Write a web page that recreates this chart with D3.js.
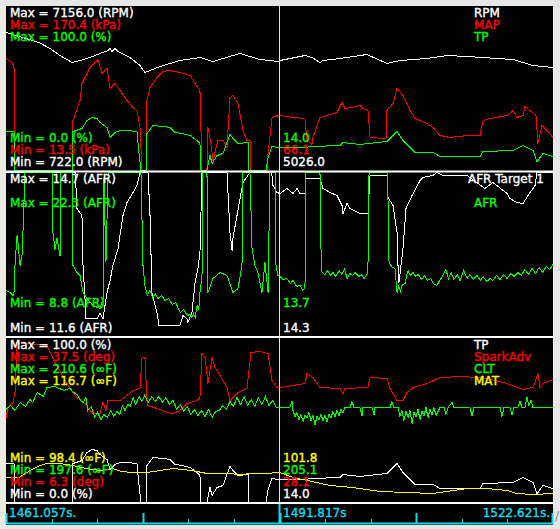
<!DOCTYPE html>
<html><head><meta charset="utf-8">
<script src="https://cdn.jsdelivr.net/npm/d3@7"></script>
<style>
html,body{margin:0;padding:0;background:#e6e6e6;}
svg{display:block;}
text{font-family:"DejaVu Sans",sans-serif;font-size:12px;stroke-width:0.35px;}
</style></head><body>
<svg id="c" width="560" height="529"></svg>
<script>
// ---- time (seconds) ----
const T0 = 1461.057, T1 = 1522.621, tCursor = 1491.817;
const timeLabels = ["1461.057s.", "1491.817s", "1522.621s."];

// ---- series: [elapsed seconds, value] ----
const rpm = [[0,6136],[3.71,5744],[4.95,5508],[6.08,5233],[7.43,4959],[8.33,5037],[9.45,5155],[10.58,5312],[11.48,5430],[11.71,5508],[11.93,5390],[12.27,5508],[12.61,5390],[13.96,5155],[15.08,4841],[15.64,4567],[17.33,4802],[19.58,5037],[21.83,5155],[23.30,4998],[25.55,5233],[26.34,5312],[28.59,5077],[30.61,4998],[30.84,5026],[33.09,5194],[33.65,5233],[34.44,5155],[35.34,4959],[35.68,5037],[37.59,5116],[40.63,5273],[42.88,4920],[44.34,5037],[47.38,5116],[49.63,5233],[51.88,5194],[57.06,5077],[59.31,4841],[61.56,4763]];
const map = [[0,120.7],[0.68,116.8],[0.90,113],[1.01,13.5],[7.43,13.5],[7.54,61.3],[8.33,80.5],[8.55,96.7],[9.45,112.0],[10.35,119.7],[10.80,106.3],[11.37,111.1],[11.71,91.9],[12.27,96.7],[12.83,90.0],[13.62,80.5],[14.29,73.8],[14.74,70.9],[15.08,54.6],[15.31,13.5],[15.76,13.5],[15.87,80.5],[16.21,92.9],[16.99,102.5],[17.67,108.2],[18.46,109.2],[19.58,107.3],[20.71,104.4],[21.27,96.7],[21.83,90.0],[22.06,13.5],[22.62,13.5],[22.73,54.6],[22.96,45],[23.30,23.1],[23.86,42.2],[24.42,42.2],[24.87,35.5],[25.21,83.3],[25.55,85.3],[26.11,77.6],[26.67,51.8],[27.12,42.2],[27.46,42.2],[27.57,13.5],[29.38,13.5],[29.49,30],[29.94,64.2],[30.61,66.1],[30.84,66.1],[32.30,64.2],[33.65,63.2],[33.88,42.2],[34.44,38],[34.55,45],[35.34,64.2],[37.25,69.0],[37.82,78.6],[38.15,72.8],[38.94,73.8],[39.84,75.7],[40.18,72.8],[40.74,70.9],[40.97,45.1],[42.77,44.1],[42.88,70.9],[43.56,77.6],[44.01,91.9],[44.68,85.3],[45.47,70.9],[46.03,63.2],[47.38,58.5],[48.06,54.6],[48.85,47.0],[49.97,45.1],[51.88,47.0],[53.35,47.0],[53.69,61.3],[54.47,63.2],[56.39,66.1],[57.06,70.9],[57.51,64.2],[58.19,66.1],[58.41,74.7],[58.97,70.9],[59.65,66.1],[59.87,39.3],[60.32,56.5],[60.89,51.8],[61.56,45.1]];
const tp = [[0,23.5],[0.90,23.5],[1.01,0],[7.43,0],[7.54,24],[8.55,25.6],[9.12,30.5],[9.68,32.3],[10.24,31.7],[10.58,29.3],[11.37,26.2],[11.71,20.1],[12.27,23.2],[12.83,24.4],[13.62,24.4],[14.74,23.8],[14.86,16.5],[15.19,0],[15.76,0],[15.87,22.6],[16.54,27.4],[17.67,26.8],[18.46,26.2],[19.02,23.2],[19.81,22.6],[20.71,21.3],[21.50,18.3],[21.83,16.5],[21.95,0],[22.62,0],[22.96,9.1],[23.19,4.3],[23.75,9],[24.42,10.4],[24.87,17.1],[25.21,22.0],[25.55,19.5],[26.11,16.5],[27.24,17.1],[27.35,0],[29.26,0],[29.49,7.9],[29.94,14.6],[30.61,14.3],[30.84,14.0],[33.65,14.0],[34.44,14.6],[37.59,15.2],[37.93,17.1],[39.84,15.9],[42.88,17.7],[44.01,23.8],[44.68,18.3],[45.47,14.0],[46.03,11.0],[48.06,11.0],[48.85,8.5],[53.35,8.5],[53.69,11.6],[57.06,12.2],[58.19,15.2],[59.31,12.2],[59.76,5.5],[59.87,6.1],[60.44,10.4],[61.56,8.5]];
const afrTarget = [[0,14.7],[7.8,14.7],[7.99,14.02],[8.55,13.89],[8.67,12.94],[8.89,12.32],[9.0,11.94],[10.24,11.94],[10.58,12.03],[10.92,11.94],[11.37,12.43],[11.71,12.66],[12.04,12.94],[12.61,13.26],[13.17,13.89],[13.62,14.13],[14.29,14.32],[14.74,14.45],[15.08,14.7],[15.98,14.7],[16.21,13.89],[16.43,12.43],[16.99,12.05],[17.22,11.81],[19.58,11.81],[19.92,12.0],[20.37,11.94],[20.48,11.86],[20.93,12.05],[21.27,12.6],[21.61,12.89],[21.83,13.19],[22.06,14.7],[24.87,14.7],[25.21,13.57],[25.44,13.23],[25.55,13.47],[26.00,13.89],[26.34,14.21],[26.67,14.51],[27.46,14.7],[29.9,14.7],[30.05,14.45],[30.50,14.32],[30.84,14.3],[31.63,14.40],[32.30,14.3],[32.75,14.40],[33.09,14.3],[33.65,14.3],[33.76,14.59],[35.34,14.59],[35.68,14.40],[36.47,14.32],[37.25,14.26],[37.82,14.08],[37.93,13.92],[38.38,14.11],[38.72,14.02],[39.84,13.92],[40.74,13.92],[40.97,14.64],[42.88,14.64],[42.99,14.23],[43.56,14.08],[44.01,13.57],[44.12,12.94],[44.23,12.62],[44.68,13.26],[45.02,14.02],[45.70,14.26],[46.60,14.55],[46.93,14.6],[48.06,14.64],[48.51,14.7],[49.18,14.64],[51.88,14.64],[53.91,14.40],[54.81,14.51],[56.39,14.30],[56.72,14.21],[57.51,14.13],[58.19,14.11],[58.75,14.26],[59.54,14.45],[59.76,14.7],[61.56,14.7]];
const afr = [[0,12.59],[0.45,12.42],[0.79,12.17],[0.90,12.4],[1.01,14.64],[1.24,17.11],[1.35,16.54],[1.58,14.64],[1.80,15.47],[1.91,17.36],[2.14,22.3],[5.18,22.3],[5.29,17.36],[5.51,16.0],[5.74,16.87],[6.08,15.47],[6.19,22.3],[7.43,22.3],[7.54,14.64],[7.99,14.07],[8.33,13.82],[8.67,12.42],[9.12,11.93],[9.79,11.35],[10.58,11.10],[10.92,11.93],[11.03,21.8],[11.14,18],[11.25,15],[11.5,22.3],[15.19,22.3],[15.42,14.64],[15.64,13.0],[15.9,12.2],[16.2,12.6],[16.5,12.0],[16.8,12.3],[17.1,11.9],[17.5,12.2],[17.9,11.8],[18.3,11.9],[18.7,11.4],[19.1,11.6],[19.6,10.8],[20.0,11.0],[20.4,10.5],[20.7,10.6],[20.93,10.36],[21.1,10.7],[21.3,10.4],[21.50,11.35],[21.7,11.0],[21.83,12.42],[22.06,13.82],[22.17,22.3],[22.62,22.3],[22.73,12.42],[23.30,13.57],[24.09,14.07],[24.87,13.82],[25.55,12.42],[26.11,12.75],[26.56,14.64],[26.67,22.3],[27.46,22.3],[27.69,16.04],[28.02,14.64],[28.36,14.07],[28.81,12.42],[29.15,14.89],[29.49,12.42],[29.71,22.3],[30.28,22.3],[30.39,14.64],[30.61,13.82],[30.84,13.7],[31.2,13.5],[31.6,13.6],[32.0,13.2],[32.3,13.4],[32.7,12.9],[33.1,13.0],[33.4,12.6],[33.65,12.8],[33.76,22.3],[35.34,22.3],[35.45,16.04],[35.57,14.07],[35.9,13.9],[36.2,14.2],[36.5,13.8],[36.8,14.1],[37.1,13.7],[37.5,14.2],[37.8,13.9],[38.1,14.3],[38.4,13.6],[38.7,14.0],[39.0,13.8],[39.3,14.1],[39.7,13.7],[40.0,13.9],[40.3,13.6],[40.63,13.9],[40.74,14.64],[40.86,22.3],[42.88,22.3],[42.99,20.16],[43.11,14.89],[43.5,14.5],[43.78,14.4],[44.01,12.42],[44.2,12.9],[44.4,12.5],[44.6,13.1],[44.91,13.16],[45.1,13.8],[45.25,14.23],[45.5,13.8],[45.8,14.1],[46.1,13.7],[46.4,13.9],[46.8,13.5],[47.1,13.8],[47.4,13.4],[47.8,13.6],[48.1,13.2],[48.5,13.0],[48.8,13.4],[49.18,13.82],[49.5,14.3],[49.8,13.6],[50.1,14.1],[50.4,13.5],[50.8,13.9],[51.1,13.4],[51.5,14.2],[51.9,13.6],[52.2,13.9],[52.6,13.5],[53.0,13.8],[53.4,13.4],[53.7,13.7],[54.1,13.3],[54.5,13.6],[54.8,13.4],[55.2,13.8],[55.6,13.5],[56.0,13.9],[56.4,13.6],[56.8,14.0],[57.2,13.7],[57.6,14.1],[58.0,13.8],[58.4,14.3],[58.8,13.9],[59.2,14.4],[59.6,14.0],[60.0,14.5],[60.4,14.1],[60.8,14.6],[61.2,14.3],[61.56,14.7]];
const spark = [[0,22.5],[0.23,24.4],[0.79,25.3],[1.01,27.2],[1.24,36.7],[4.61,36.2],[5.5,33],[7.20,28.0],[7.99,26.3],[8.89,25.1],[9.45,23.8],[9.79,23.2],[10.58,23.2],[10.92,25.3],[11.25,23.8],[11.48,25.7],[12.83,25.7],[13.62,26.7],[14.29,27.6],[15.08,28.0],[15.31,33.9],[15.64,33.9],[15.87,25.7],[15.98,24.8],[16.99,24.2],[18.12,23.4],[18.80,23.2],[19.58,23.8],[20.37,25.1],[21.50,25.7],[21.83,26.3],[22.06,34.6],[22.40,33.9],[22.73,28.9],[23.19,33.9],[23.52,32.0],[24.09,30.5],[24.87,28.2],[25.21,25.7],[25.77,26.7],[26.11,27.2],[27.12,28.0],[27.57,34.8],[28.59,35.0],[29.49,34.6],[29.94,29.5],[30.50,28.2],[30.84,28.1],[33.65,28.9],[33.88,30.8],[34.55,30.1],[35.34,28.2],[37.59,28.0],[37.93,27.0],[38.15,28.0],[40.74,28.2],[40.97,30.1],[42.88,29.9],[43.22,28.0],[44.01,25.7],[44.68,25.7],[45.13,27.2],[45.81,28.2],[47.38,28.9],[48.85,30.1],[51.43,30.3],[54.14,29.9],[56.39,28.9],[58.19,27.8],[59.31,28.2],[59.87,30.8],[60.10,28.2],[60.44,28.9],[61.56,29.7]];
const clt = [[0,205.0],[0.5,205.3],[1.0,204.9],[1.6,205.5],[2.2,205.2],[2.7,205.8],[3.0,205.5],[3.5,206.3],[4.2,206.0],[4.6,206.7],[5.5,206.8],[6.5,206.5],[7.2,206.6],[7.6,206.3],[8.0,206.2],[8.4,205.7],[8.7,205.5],[9.0,205.9],[9.2,204.9],[9.6,205.2],[10.0,204.3],[10.3,204.7],[10.7,204.2],[11.0,204.6],[11.4,204.3],[11.8,204.9],[12.1,204.4],[12.5,204.8],[12.8,204.6],[13.1,205.3],[13.4,204.9],[13.7,205.4],[14.0,205.2],[14.3,205.9],[14.6,205.4],[15.0,206.0],[15.3,205.6],[15.6,206.1],[16.0,205.5],[16.4,206.0],[16.8,205.6],[17.2,206.0],[17.6,205.5],[18.0,205.9],[18.4,205.4],[18.8,205.7],[19.2,205.0],[19.6,205.4],[20.0,204.8],[20.4,205.2],[20.8,204.6],[21.2,205.0],[21.6,204.5],[22.0,204.9],[22.4,204.4],[22.8,205.0],[23.2,204.3],[23.6,204.8],[24.0,204.9],[24.4,205.3],[24.8,205.0],[25.2,205.6],[25.6,205.2],[26.0,205.9],[26.4,205.4],[26.8,206.0],[27.2,205.3],[27.6,205.8],[28.0,205.2],[28.4,205.9],[28.8,205.4],[29.2,206.0],[29.6,205.3],[30.0,205.7],[30.4,205.1],[30.84,205.1],[31.96,205.1],[32.19,205.6],[32.30,204.9],[32.53,204.4],[32.75,204.7],[32.98,204.2],[33.20,204.6],[33.43,204.0],[33.65,204.5],[33.88,204.3],[34.10,204.7],[34.33,204.1],[34.55,204.5],[34.78,203.8],[35.00,204.4],[35.23,204.2],[35.45,204.6],[35.68,204.1],[35.90,204.5],[36.13,204.0],[36.35,204.6],[36.58,204.3],[36.80,204.8],[37.03,204.4],[37.25,204.9],[37.48,204.5],[37.70,205.0],[37.93,204.7],[38.15,205.1],[38.72,205.1],[38.94,205.6],[39.17,205.1],[39.84,205.1],[40.07,204.5],[40.18,205.1],[41.19,205.1],[41.42,204.6],[41.53,205.1],[43.22,205.1],[43.44,205.6],[43.67,205.1],[44.12,205.1],[44.34,204.4],[44.57,204.9],[44.79,204.1],[45.02,204.8],[45.25,204.3],[45.47,204.9],[45.70,203.9],[45.92,204.7],[46.15,204.4],[46.37,205.0],[46.60,204.2],[46.82,204.8],[47.05,204.5],[47.27,205.1],[47.50,204.3],[47.72,205.0],[47.95,204.6],[48.17,205.1],[48.40,204.5],[48.85,205.1],[49.30,205.1],[49.52,204.6],[49.75,205.1],[50.20,205.5],[50.42,205.1],[52.22,205.1],[52.45,204.5],[52.67,205.1],[55.60,205.1],[55.82,204.4],[56.05,205.1],[56.72,205.1],[56.95,204.6],[57.17,205.1],[57.62,205.1],[57.85,205.6],[58.08,205.1],[58.41,205.1],[58.64,205.9],[58.86,205.3],[59.09,205.7],[59.31,205.1],[60.10,205.1],[61.56,205.1]];
const mat = [[0,101.2],[1.5,101.2],[2.70,102.0],[3.83,102.5],[4.61,102.8],[6.0,102.8],[7.54,102.5],[9.0,102.2],[10.58,102.0],[12.04,102.2],[13.0,101.9],[14.29,101.8],[15.87,101.8],[17.33,102.0],[18.80,102.2],[20.93,102.0],[22.62,101.6],[24.87,101.6],[26.34,101.5],[27.80,101.6],[29.38,101.6],[30.61,101.8],[30.84,101.8],[32.3,101.2],[34.44,100.7],[36.47,100.3],[39.05,100.1],[42.09,99.6],[45.13,99.5],[48.06,99.4],[49.63,99.6],[51.88,100.0],[54.14,100.0],[56.39,99.7],[57.51,99.4],[59.31,99.3],[61.56,99.4]];

// ---- channel definitions ----
const panel1 = [
  {name:"RPM", unit:"RPM", min:722.0, max:7156.0, color:"#ffffff", data:rpm, cur:"5026.0"},
  {name:"MAP", unit:"kPa", min:13.5, max:170.4, color:"#ff0000", data:map, cur:"66.1"},
  {name:"TP", unit:"%", min:0.0, max:100.0, color:"#00ff00", data:tp, cur:"14.0"}
];
const panel2 = [
  {name:"AFR Target 1", unit:"AFR", min:11.6, max:14.7, color:"#ffffff", data:afrTarget, cur:"14.3"},
  {name:"AFR", unit:"AFR", min:8.8, max:22.3, color:"#00ff00", data:afr, cur:"13.7"}
];
const panel3 = [
  {name:"TP", unit:"%", min:0.0, max:100.0, color:"#ffffff", data:tp, cur:"14.0"},
  {name:"SparkAdv", unit:"deg", min:6.3, max:37.5, color:"#ff0000", data:spark, cur:"28.1"},
  {name:"CLT", unit:"∞F", min:197.6, max:210.6, color:"#00ff00", data:clt, cur:"205.1"},
  {name:"MAT", unit:"∞F", min:98.4, max:116.7, color:"#ffff00", data:mat, cur:"101.8"}
];

const svg = d3.select("#c");
const L = 6, R = 553;
svg.append("rect").attr("x",0).attr("y",5).attr("width",6).attr("height",524).attr("fill","#ecebe2");
svg.append("rect").attr("x",L).attr("y",6).attr("width",R-L).attr("height",519).attr("fill","#000");

const x = d3.scaleLinear().domain([0, T1 - T0]).range([L, R]);

const panels = [
  {series:panel1, top:6, bottom:170, maxY:[17,29,41], minY:[166,154,142]},
  {series:panel2, top:172, bottom:336, maxY:[183,207], minY:[332,307]},
  {series:panel3, top:338, bottom:502, maxY:[349,361,373,385], minY:[498,486,474,462]}
];

panels.forEach((p, pi) => {
  const cid = "clip" + pi;
  svg.append("clipPath").attr("id", cid).append("rect")
    .attr("x", L).attr("y", p.top - 1).attr("width", R - L).attr("height", p.bottom - p.top + 2);
  const g = svg.append("g").attr("clip-path", `url(#${cid})`);
  p.series.forEach(s => {
    const y = d3.scaleLinear().domain([s.min, s.max]).range([p.bottom, p.top]);
    const line = d3.line().x(d => x(d[0])).y(d => Math.round(y(d[1])) + 0.5);
    g.append("path").datum(s.data).attr("d", line)
      .attr("fill", "none").attr("stroke", s.color).attr("stroke-width", 1)
      .attr("shape-rendering", "crispEdges");
  });
});

// cursor line
const xc = Math.round(x(tCursor - T0)) + 0.5;
svg.append("line").attr("x1", xc).attr("x2", xc).attr("y1", 6).attr("y2", 504)
  .attr("stroke", "#cde9ff").attr("stroke-width", 1);

// separators
[170.5, 336, 502].forEach(yy => {
  svg.append("rect").attr("x", L).attr("y", yy).attr("width", R - L + 1).attr("height", 2).attr("fill", "#ffffff");
});
svg.append("line").attr("x1", R + 0.5).attr("x2", R + 0.5).attr("y1", 6).attr("y2", 504)
  .attr("stroke", "#f4f4f4").attr("stroke-width", 1);

// labels
panels.forEach((p, pi) => {
  p.series.forEach((s, i) => {
    const add = (tx, ty, str) => svg.append("text").attr("x", tx).attr("y", ty)
      .attr("fill", s.color).attr("stroke", s.color).text(str);
    add(10, p.maxY[i], `Max = ${s.max.toFixed(1)} (${s.unit})`);
    add(10, p.minY[i], `Min = ${s.min.toFixed(1)} (${s.unit})`);
    add(xc + 3.5, p.minY[i], s.cur);
    add((pi === 1 && i === 0) ? 468 : 474, p.maxY[i], s.name);
  });
});

// time axis strip
const cyan = "#10dcea";
const nTicks = 12;
const tickVals = d3.range(nTicks + 1).map(i => i * (T1 - T0) / nTicks);
svg.append("g").selectAll("line").data(tickVals).join("line")
  .attr("x1", d => Math.min(Math.round(x(d)) + 0.5, R - 0.5))
  .attr("x2", d => Math.min(Math.round(x(d)) + 0.5, R - 0.5))
  .attr("y1", (d, i) => i % 3 === 0 ? 513 : 519).attr("y2", 524)
  .attr("stroke", cyan).attr("stroke-width", (d, i) => i % 3 === 0 ? 2 : 1);
svg.append("line").attr("x1", xc).attr("x2", xc).attr("y1", 504).attr("y2", 524)
  .attr("stroke", cyan).attr("stroke-width", 2);
svg.append("rect").attr("x", L).attr("y", 522.5).attr("width", R - L).attr("height", 2).attr("fill", cyan);

const addT = (tx, ty, str, anchor) => svg.append("text").attr("x", tx).attr("y", ty)
  .attr("fill", cyan).attr("stroke", cyan).attr("text-anchor", anchor).text(str);
addT(9, 517, timeLabels[0], "start");
addT(xc + 3.5, 517, timeLabels[1], "start");
addT(550, 517, timeLabels[2], "end");
svg.append("text").attr("x", 555).attr("y", 520).attr("fill", "#888").attr("font-size", 10).text("/");
</script>
</body></html>
